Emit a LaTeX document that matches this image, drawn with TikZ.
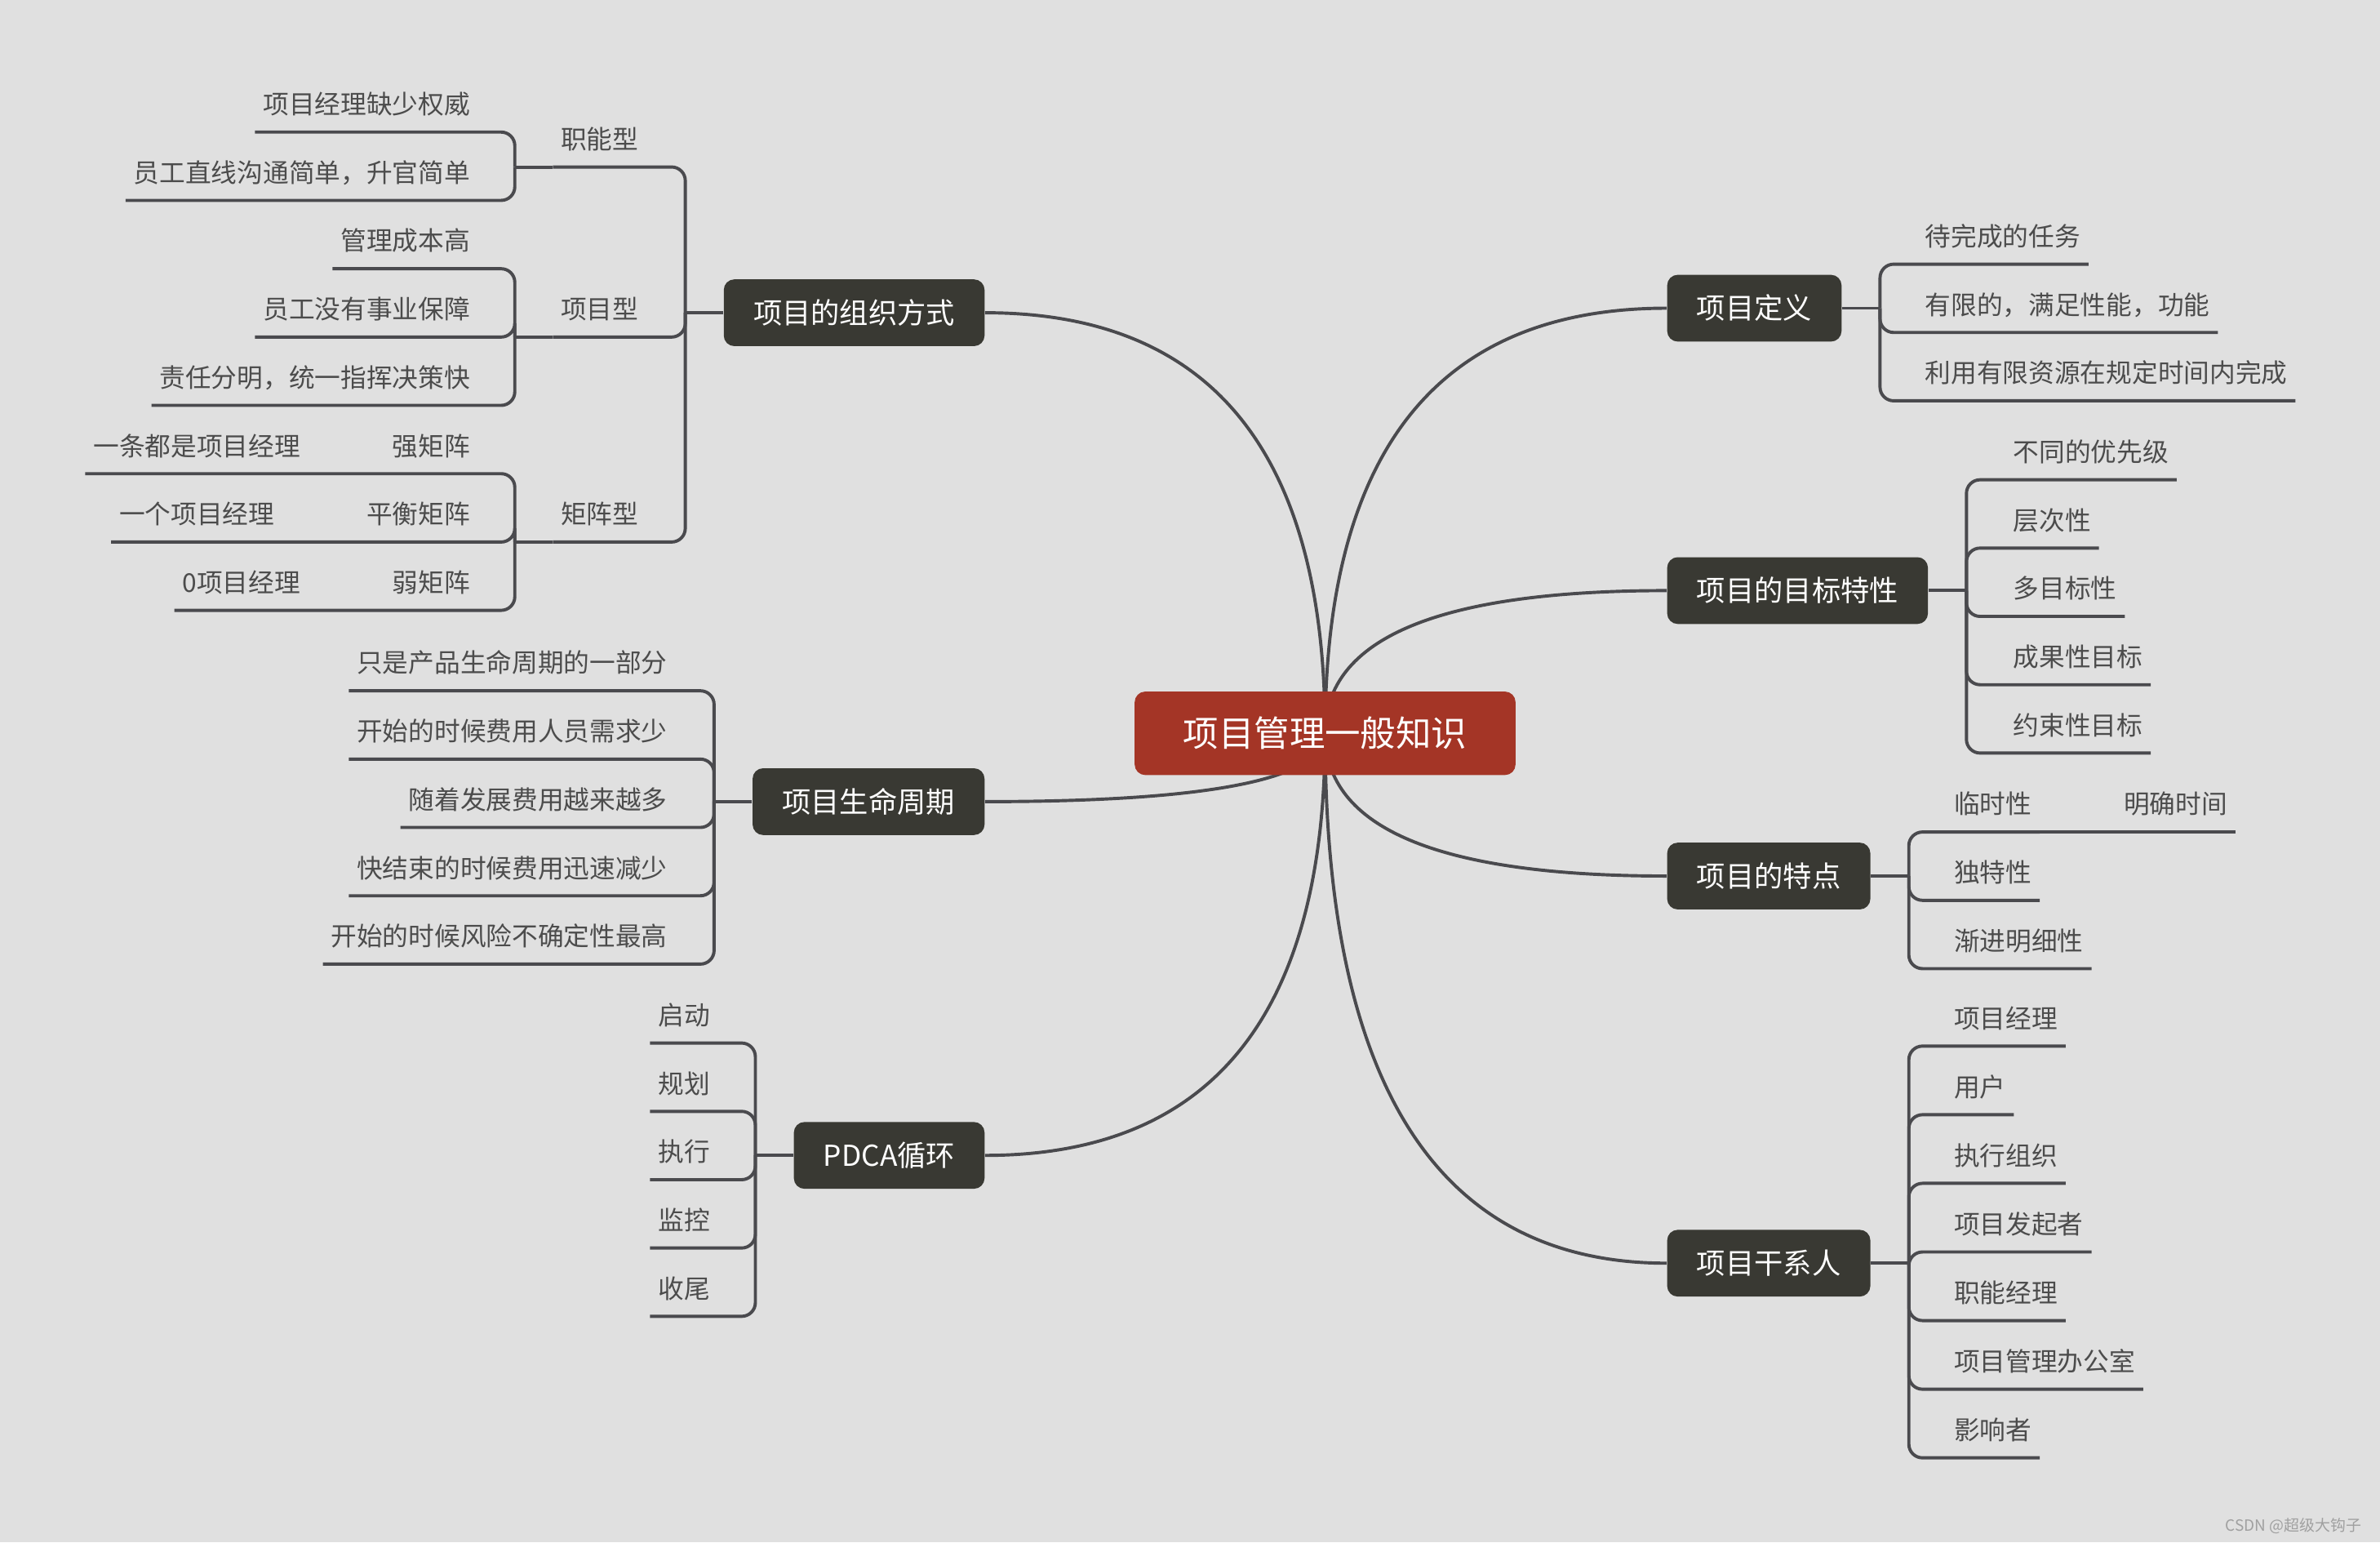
\documentclass[tikz,border=0pt]{standalone}
\usepackage{fontspec}
\setmainfont{Noto Sans CJK SC}
\usetikzlibrary{positioning, calc}
\definecolor{bggray}{RGB}{224,224,224}
\definecolor{rootred}{RGB}{164,53,38}
\definecolor{topicdark}{RGB}{57,57,51}
\definecolor{linegray}{RGB}{74,74,78}
\definecolor{leaftext}{RGB}{76,76,76}
\definecolor{markgray}{RGB}{160,160,160}
\tikzset{
  root/.style={rectangle, rounded corners=0.14cm, fill=rootred, text=white,
    inner xsep=0.64cm, minimum height=1.1cm, font=\fontsize{13.3}{16}\selectfont},
  topic/.style={rectangle, rounded corners=0.14cm, fill=topicdark, text=white,
    inner xsep=0.39cm, minimum height=0.88cm, font=\fontsize{10.8}{13}\selectfont},
  leaf/.style={inner xsep=0.1cm, inner ysep=0pt, minimum height=0.72cm,
    text height=8.5pt, text depth=1.2pt, text=leaftext, font=\fontsize{9.7}{12}\selectfont},
  link/.style={line width=1.2pt, color=linegray, rounded corners=0.18cm},
  curve/.style={line width=1.2pt, color=linegray},
}

\begin{document}
\begin{tikzpicture}[x=0.02cm, y=-0.02cm]
  \fill[bggray] (0,0) rectangle (1568,1016);
  \useasboundingbox (0,0) rectangle (1568,1016);
  \coordinate (rc) at (873,483);

  % main topics
  \node[topic, anchor=east] (org) at (649,206) {项目的组织方式};
  \node[topic, anchor=east] (life) at (649,528) {项目生命周期};
  \node[topic, anchor=east] (pdca) at (649,761) {PDCA循环};
  \node[topic, anchor=west] (def) at (1098,203) {项目定义};
  \node[topic, anchor=west] (goal) at (1098,389) {项目的目标特性};
  \node[topic, anchor=west] (feat) at (1098,577) {项目的特点};
  \node[topic, anchor=west] (stake) at (1098,832) {项目干系人};
  \foreach \t in {org.east, life.east, pdca.east, def.west, goal.west, feat.west, stake.west}
    \draw[curve] (rc) .. controls ($(rc)!.667!(rc |- \t)$) and ($(\t)!.667!(rc |- \t)$) .. (\t);
  \node[root] (root) at (rc) {项目管理一般知识};

  % 组织方式
  \draw[link] (org.west) -- ++(-25,0) coordinate (orgb);
  \node[leaf, anchor=south east] (znx) at (426,110) {职能型};
  \node[leaf, anchor=south east] (xmx) at (426,222) {项目型};
  \node[leaf, anchor=south east] (jzx) at (426,357) {矩阵型};
  \foreach \c in {znx, xmx, jzx}
    \draw[link] (orgb) |- (\c.south east) -- (\c.south west);

  \node[leaf, anchor=south east] (zn1) at (315,87) {项目经理缺少权威};
  \node[leaf, anchor=south east] (zn2) at (315,132) {员工直线沟通简单，升官简单};
  \draw[link] (znx.south west) -- ++(-25,0) coordinate (znb);
  \foreach \c in {zn1, zn2}
    \draw[link] (znb) |- (\c.south east) -- (\c.south west);

  \node[leaf, anchor=south east] (xm1) at (315,177) {管理成本高};
  \node[leaf, anchor=south east] (xm2) at (315,222) {员工没有事业保障};
  \node[leaf, anchor=south east] (xm3) at (315,267) {责任分明，统一指挥决策快};
  \draw[link] (xmx.south west) -- ++(-25,0) coordinate (xmb);
  \foreach \c in {xm1, xm2, xm3}
    \draw[link] (xmb) |- (\c.south east) -- (\c.south west);

  \node[leaf, anchor=south east] (jzq) at (315,312) {强矩阵};
  \node[leaf, anchor=south east] (jzp) at (315,357) {平衡矩阵};
  \node[leaf, anchor=south east] (jzr) at (315,402) {弱矩阵};
  \node[leaf, left=1cm of jzq] (jzqa) {一条都是项目经理};
  \node[leaf, left=1cm of jzp] (jzpa) {一个项目经理};
  \node[leaf, left=1cm of jzr] (jzra) {0项目经理};
  \draw[link] (jzx.south west) -- ++(-25,0) coordinate (jzb);
  \foreach \c/\d in {jzq/jzqa, jzp/jzpa, jzr/jzra}
    \draw[link] (jzb) |- (\c.south east) -- (\c.south west) -- (\d.south west);

  % 生命周期
  \draw[link] (life.west) -- ++(-25,0) coordinate (lifeb);
  \foreach \txt [count=\i] in {只是产品生命周期的一部分, 开始的时候费用人员需求少,
      随着发展费用越来越多, 快结束的时候费用迅速减少, 开始的时候风险不确定性最高} {
    \node[leaf, anchor=south east] (life\i) at (445,410+45*\i) {\txt};
    \draw[link] (lifeb) |- (life\i.south east) -- (life\i.south west);
  }

  % PDCA
  \draw[link] (pdca.west) -- ++(-25,0) coordinate (pdcab);
  \foreach \txt [count=\i] in {启动, 规划, 执行, 监控, 收尾} {
    \node[leaf, anchor=south east] (pdca\i) at (473,642+45*\i) {\txt};
    \draw[link] (pdcab) |- (pdca\i.south east) -- (pdca\i.south west);
  }

  % 项目定义
  \draw[link] (def.east) -- ++(25,0) coordinate (defb);
  \foreach \txt [count=\i] in {待完成的任务, 有限的，满足性能，功能, 利用有限资源在规定时间内完成} {
    \node[leaf, anchor=south west] (def\i) at (1263,129+45*\i) {\txt};
    \draw[link] (defb) |- (def\i.south west) -- (def\i.south east);
  }

  % 目标特性
  \draw[link] (goal.east) -- ++(25,0) coordinate (goalb);
  \foreach \txt [count=\i] in {不同的优先级, 层次性, 多目标性, 成果性目标, 约束性目标} {
    \node[leaf, anchor=south west] (goal\i) at (1321,271+45*\i) {\txt};
    \draw[link] (goalb) |- (goal\i.south west) -- (goal\i.south east);
  }

  % 特点
  \draw[link] (feat.east) -- ++(25,0) coordinate (featb);
  \foreach \txt [count=\i] in {临时性, 独特性, 渐进明细性} {
    \node[leaf, anchor=south west] (feat\i) at (1282,503+45*\i) {\txt};
    \draw[link] (featb) |- (feat\i.south west) -- (feat\i.south east);
  }
  \node[leaf, right=1cm of feat1] (featx) {明确时间};
  \draw[link] (feat1.south east) -- (featx.south east);

  % 干系人
  \draw[link] (stake.east) -- ++(25,0) coordinate (stakeb);
  \foreach \txt [count=\i] in {项目经理, 用户, 执行组织, 项目发起者, 职能经理, 项目管理办公室, 影响者} {
    \node[leaf, anchor=south west] (stake\i) at (1282,643.8+45.2*\i) {\txt};
    \draw[link] (stakeb) |- (stake\i.south west) -- (stake\i.south east);
  }

  \node[anchor=east, text=markgray, font=\fontsize{5.8}{7}\selectfont] (mark) at (1562,1005) {CSDN @超级大钩子};
\end{tikzpicture}
\end{document}
